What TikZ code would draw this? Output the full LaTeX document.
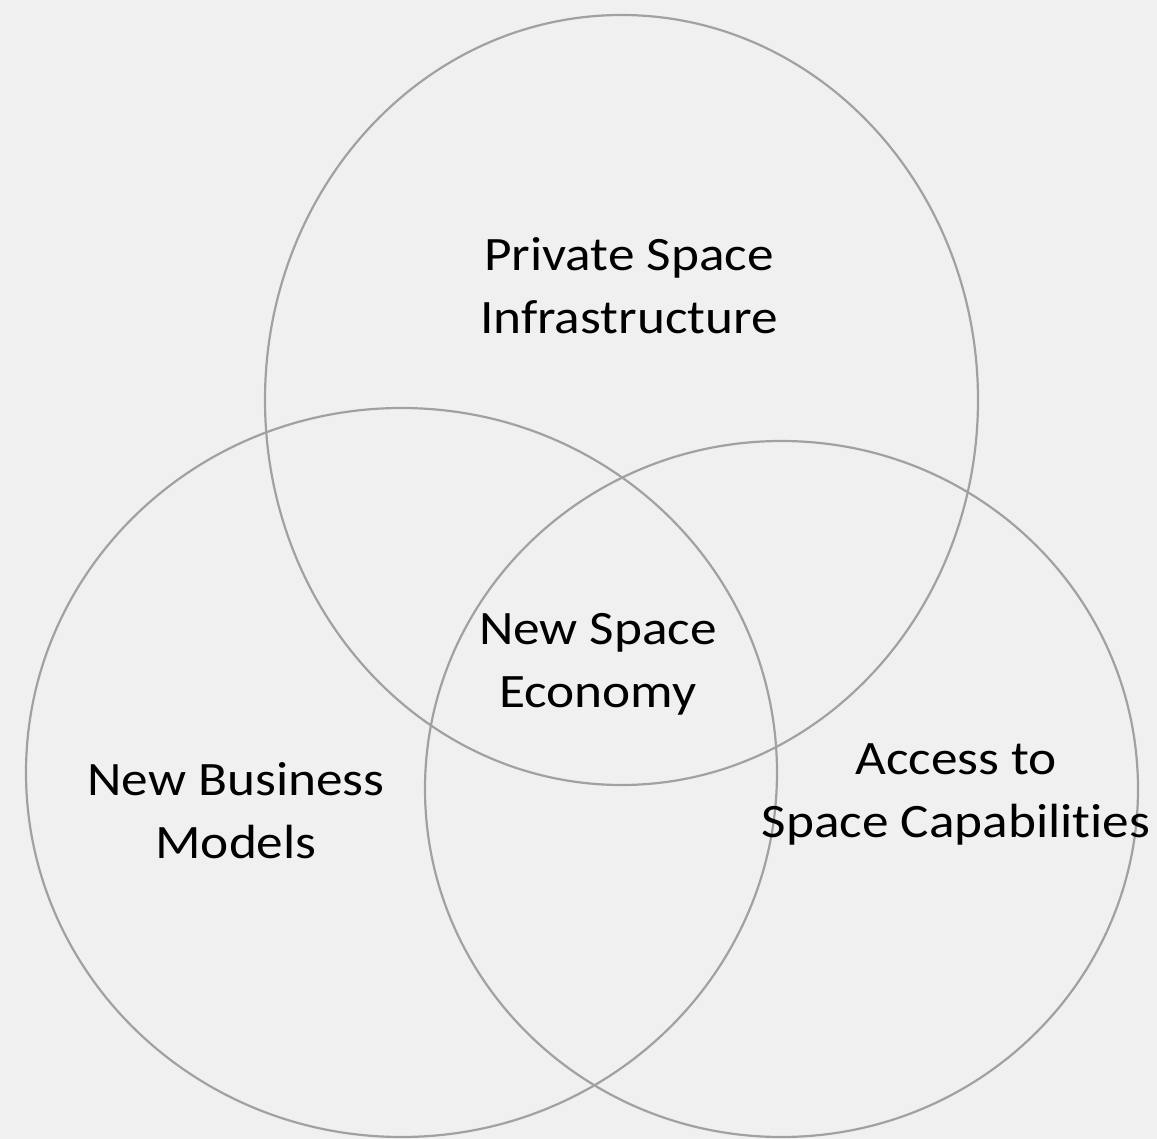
\documentclass[tikz,border=0pt]{standalone}
\usepackage{fontspec}
\setmainfont{Carlito}[FakeStretch=1.11, Ligatures=NoCommon]
\begin{document}
\begin{tikzpicture}[x=1pt,y=-1pt,
  venn/.style={draw=black!37, line width=2.2pt},
  lbl/.style={align=center, font=\fontsize{48}{63}\selectfont, inner sep=0pt, text=black}]
\useasboundingbox[fill={rgb,255:red,240;green,240;blue,240}] (0,0) rectangle (1157,1139);
\draw[venn] (621.5,400) ellipse [x radius=356.5, y radius=385];
\draw[venn] (401.5,772.5) ellipse [x radius=375.5, y radius=364.5];
\draw[venn] (781.5,789) ellipse [x radius=356.5, y radius=348];
\node[lbl] (psi) at (629,286) {Private Space\\Infrastructure};
\node[lbl] (nse) at (598,664) {New Space\\Economy};
\node[lbl] (nbm) at (236,811) {New Business\\Models};
\node[lbl] (acc) at (956,794) {Access to\\Space Capabilities};
\end{tikzpicture}
\end{document}
